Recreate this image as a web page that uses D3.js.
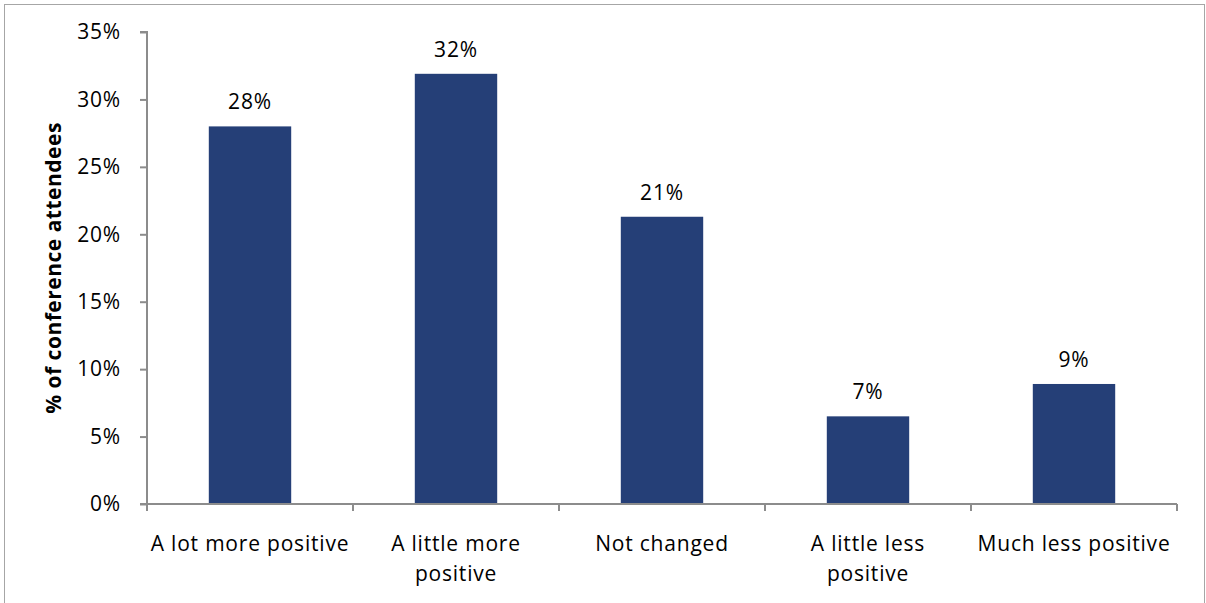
<!DOCTYPE html>
<html><head><meta charset="utf-8">
<script src="https://cdn.jsdelivr.net/npm/d3@7"></script>
<style>
body{margin:0;background:#fff;}
text{font-family:"Open Sans", Lato, sans-serif;fill:#000;}
</style></head>
<body><svg id="c" width="1206" height="603"></svg>
<script>
const categories = [["A lot more positive"], ["A little more", "positive"], ["Not changed"], ["A little less", "positive"], ["Much less positive"]];
const values = [28.0, 31.9, 21.3, 6.5, 8.9];
const valueLabels = ["28%", "32%", "21%", "7%", "9%"];
const yTicks = [0, 5, 10, 15, 20, 25, 30, 35];
const yTitle = "% of conference attendees";

(function(){
const svg = d3.select("#c");
svg.append("rect").attr("x",4.5).attr("y",4.5).attr("width",1200).attr("height",610)
  .attr("fill","#fff").attr("stroke","#a6a6a6").attr("stroke-width",1);

const mL = 147, mR = 1177, mT = 32, mB = 504;
const idx = categories.map((d,i)=>i);
const x = d3.scaleBand().domain(idx).range([mL,mR]).paddingInner(0.6).paddingOuter(0.3);
const y = d3.scaleLinear().domain([0,35]).range([mB,mT]);
const axisColor = "#8c8c8c";
const fs = 21, ls = "0.8px";

svg.append("g").selectAll("rect").data(values).join("rect")
  .attr("x",(d,i)=>x(i)).attr("width",x.bandwidth())
  .attr("y",d=>y(d)).attr("height",d=>mB-y(d))
  .attr("fill","#253f77");

svg.append("g").selectAll("text").data(values).join("text")
  .attr("x",(d,i)=>x(i)+x.bandwidth()/2).attr("y",d=>y(d)-17)
  .attr("text-anchor","middle").style("font-size",fs+"px").style("letter-spacing",ls)
  .text((d,i)=>valueLabels[i]);

const ya = svg.append("g").attr("transform",`translate(${mL},0)`)
  .call(d3.axisLeft(y).tickValues(yTicks).tickFormat(d=>d+"%").tickSize(7).tickPadding(19));
ya.selectAll("path,line").attr("stroke",axisColor).attr("stroke-width",2);
ya.select(".domain").attr("d",`M-7,${mT}H0V${mB}H-7`);
ya.selectAll("text").style("font-size",fs+"px").style("letter-spacing",ls).attr("fill","#000").attr("font-family",null);

const bounds = d3.range(categories.length+1).map(i=>mL + i*(mR-mL)/categories.length);
const xa = svg.append("g");
xa.append("line").attr("x1",mL-7).attr("x2",mR).attr("y1",mB).attr("y2",mB)
  .attr("stroke",axisColor).attr("stroke-width",2);
xa.selectAll("line.t").data(bounds).join("line").attr("class","t")
  .attr("x1",d=>d).attr("x2",d=>d).attr("y1",mB).attr("y2",mB+7)
  .attr("stroke",axisColor).attr("stroke-width",2);
const cl = xa.selectAll("text").data(categories).join("text")
  .attr("text-anchor","middle").style("font-size",fs+"px").style("letter-spacing",ls)
  .attr("transform",(d,i)=>`translate(${x(i)+x.bandwidth()/2},${mB+47})`);
cl.selectAll("tspan").data(d=>d).join("tspan").attr("x",0).attr("dy",(d,j)=>j?30:0).text(d=>d);

svg.append("text").attr("transform",`translate(61,${(mT+mB)/2}) rotate(-90)`)
  .attr("text-anchor","middle").style("font-size",fs+"px").style("letter-spacing","0.5px")
  .style("font-weight","bold").text(yTitle);
})();
</script></body></html>
